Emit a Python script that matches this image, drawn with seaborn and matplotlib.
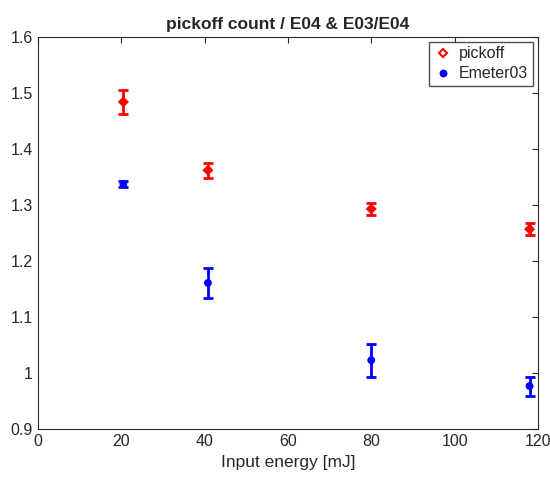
import numpy as np
import pandas as pd
import seaborn as sns
import matplotlib.pyplot as plt

# data
energy = [20.5, 40.8, 80.0, 118.0]
pickoff = [1.484, 1.362, 1.293, 1.257]
pickoff_err = [0.021, 0.013, 0.011, 0.011]
emeter = [1.3375, 1.161, 1.023, 0.977]
emeter_err = [0.006, 0.027, 0.029, 0.017]

df = pd.DataFrame({
    'energy': energy * 2,
    'ratio': pickoff + emeter,
    'series': ['pickoff'] * 4 + ['Emeter03'] * 4,
})

sns.set_style('white')
plt.rcParams['font.family'] = ['Liberation Sans', 'DejaVu Sans']

fig = plt.figure(figsize=(5.5, 4.79), dpi=100)
ax = fig.add_axes([0.069, 0.104, 0.909, 0.819])

ax.errorbar(energy, pickoff, yerr=pickoff_err, fmt='none', ecolor='red',
            elinewidth=2, capsize=3.5, capthick=2)
ax.errorbar(energy, emeter, yerr=emeter_err, fmt='none', ecolor='blue',
            elinewidth=2, capsize=3.5, capthick=2)

sns.scatterplot(data=df, x='energy', y='ratio', hue='series', style='series',
                palette={'pickoff': 'red', 'Emeter03': 'blue'},
                markers={'pickoff': 'D', 'Emeter03': 'o'}, s=32,
                edgecolor=None, linewidth=0, ax=ax)

ax.set_xlim(0, 120)
ax.set_ylim(0.9, 1.6)
ax.set_xticks([0, 20, 40, 60, 80, 100, 120])
ax.set_yticks([0.9, 1, 1.1, 1.2, 1.3, 1.4, 1.5, 1.6])
ax.set_yticklabels(['0.9', '1', '1.1', '1.2', '1.3', '1.4', '1.5', '1.6'])
ax.tick_params(direction='in', length=4, labelsize=11.5, colors='#262626',
               top=True, right=True)
for sp in ax.spines.values():
    sp.set_color('#262626')
    sp.set_linewidth(0.8)

ax.set_xlabel('Input energy [mJ]', fontsize=12.5, color='#262626')
ax.set_ylabel('')
ax.set_title('pickoff count / E04 & E03/E04', fontsize=12.5, fontweight='bold')

h, l = ax.get_legend_handles_labels()
h[0].set_markerfacecolor('none')
h[0].set_markeredgecolor('red')
h[0].set_markeredgewidth(1.5)
h[0].set_markersize(4.5)
ax.legend(h, l, loc='upper right', fontsize=11.5, frameon=True, fancybox=False,
          edgecolor='#262626', borderaxespad=0.3, handletextpad=0.4,
          borderpad=0.3, labelspacing=0.3, handlelength=1.2)

fig.savefig('out.png', dpi=100)
